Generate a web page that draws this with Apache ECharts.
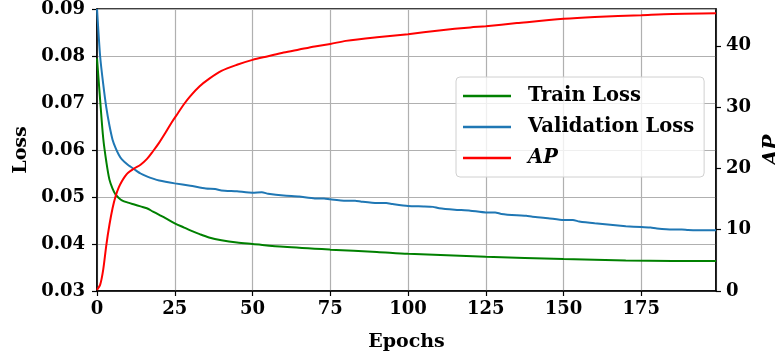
<!DOCTYPE html>
<html>
<head>
<meta charset="utf-8">
<script src="https://cdn.jsdelivr.net/npm/echarts@6/dist/echarts.min.js"></script>
<style>
  html, body { margin: 0; padding: 0; background: #fff; }
  #chart { width: 775px; height: 358px; }
</style>
</head>
<body>
<div id="chart"></div>
<script>
// values
const trainEpochs = [0, 1, 2, 3, 4, 5, 6, 7, 8, 10, 12, 14, 16, 18, 20, 22, 25, 28, 30, 33, 36, 40, 45, 50, 60, 75, 90, 100, 125, 150, 170, 185, 199];
const trainLoss = [0.0795, 0.0707, 0.0625, 0.0575, 0.0537, 0.0518, 0.0505, 0.0498, 0.0493, 0.0488, 0.0484, 0.0480, 0.0476, 0.0469, 0.0462, 0.0455, 0.0444, 0.0435, 0.0429, 0.0421, 0.0414, 0.0408, 0.0403, 0.0400, 0.0394, 0.0388, 0.0383, 0.0379, 0.0373, 0.0368, 0.0365, 0.0364, 0.0364];

const valEpochs = [0, 1, 2, 3, 4, 5, 6, 7, 8, 10, 12, 14, 16, 18, 20, 25, 30, 35, 38, 40, 45, 50, 53, 55, 60, 65, 70, 73, 75, 80, 83, 85, 90, 93, 95, 100, 105, 108, 110, 115, 120, 125, 128, 130, 135, 138, 140, 145, 150, 153, 155, 160, 165, 170, 175, 178, 180, 185, 188, 190, 195, 199];
const valLoss = [0.0900, 0.0800, 0.0740, 0.0690, 0.0652, 0.0622, 0.0604, 0.0590, 0.0580, 0.0568, 0.0559, 0.0550, 0.0544, 0.0539, 0.0535, 0.0529, 0.0524, 0.0518, 0.0517, 0.0514, 0.0512, 0.0509, 0.0510, 0.0507, 0.0503, 0.0501, 0.0497, 0.0497, 0.0495, 0.0492, 0.0492, 0.0490, 0.0487, 0.0487, 0.0485, 0.0481, 0.0480, 0.0479, 0.0476, 0.0473, 0.0471, 0.0467, 0.0467, 0.0464, 0.0461, 0.0460, 0.0458, 0.0455, 0.0451, 0.0451, 0.0448, 0.0444, 0.0441, 0.0438, 0.0436, 0.0435, 0.0433, 0.0431, 0.0431, 0.0430, 0.0429, 0.0429];

const apEpochs = [0, 1, 2, 3, 4, 5, 6, 7, 8, 9, 10, 12, 14, 16, 18, 20, 22, 24, 26, 28, 30, 33, 36, 40, 45, 50, 55, 60, 65, 70, 75, 80, 90, 100, 110, 120, 125, 135, 150, 160, 175, 185, 199];
const apValues = [0.2, 1.0, 3.5, 7.5, 10.8, 13.5, 15.5, 16.9, 17.9, 18.7, 19.3, 20.0, 20.6, 21.5, 22.8, 24.2, 25.8, 27.5, 29.0, 30.5, 31.8, 33.4, 34.6, 35.9, 36.9, 37.7, 38.3, 38.9, 39.4, 39.9, 40.3, 40.8, 41.4, 41.9, 42.5, 43.0, 43.2, 43.7, 44.4, 44.7, 45.0, 45.2, 45.3];

const pairs = (xs, ys) => xs.map((x, i) => [x, ys[i]]);

const font = 'DejaVu Serif';
const lbl = { fontFamily: font, fontWeight: 'bold', fontSize: 18, color: '#000' };

const chart = echarts.init(document.getElementById('chart'), null, { renderer: 'canvas' });

chart.setOption({
  animation: false,
  grid: {
    left: 97, right: 59, top: 9, bottom: 67,
    outerBoundsMode: 'none', containLabel: false,
    show: true, borderColor: '#000', borderWidth: 1.5, backgroundColor: 'transparent'
  },
  legend: {
    orient: 'vertical',
    left: 456, top: 77,
    padding: [8, 10, 8, 7],
    icon: 'rect',
    itemWidth: 48, itemHeight: 2.5, itemGap: 9,
    backgroundColor: 'rgba(255,255,255,0.8)',
    borderColor: '#d0d0d0', borderWidth: 1, borderRadius: 4,
    formatter: name => name === 'AP' ? '{it|AP}' : name,
    textStyle: {
      fontFamily: font, fontWeight: 'bold', fontSize: 19.5, color: '#000',
      padding: [0, 0, 0, 12], lineHeight: 22,
      rich: { it: { fontFamily: font, fontWeight: 'bold', fontStyle: 'italic', fontSize: 19.5, color: '#000', lineHeight: 22 } }
    },
    data: ['Train Loss', 'Validation Loss', 'AP']
  },
  xAxis: {
    type: 'value', min: 0, max: 199, interval: 25,
    name: 'Epochs', nameLocation: 'middle', nameGap: 42,
    nameTextStyle: Object.assign({}, lbl, { fontSize: 19 }),
    axisLine: { show: true, lineStyle: { color: '#000', width: 1.5 } },
    axisTick: { show: true, inside: false, length: 5, lineStyle: { color: '#000', width: 1.2 } },
    axisLabel: Object.assign({}, lbl, { margin: 9, showMaxLabel: false }),
    splitLine: { show: true, lineStyle: { color: '#b0b0b0', width: 1.2 } }
  },
  yAxis: [
    {
      type: 'value', min: 0.03, max: 0.09, interval: 0.01, position: 'left',
      name: 'Loss', nameLocation: 'middle', nameGap: 66, nameRotate: 90,
      nameTextStyle: Object.assign({}, lbl, { fontSize: 19 }),
      axisLine: { show: true, lineStyle: { color: '#000', width: 1.5 } },
      axisTick: { show: true, inside: false, length: 5, lineStyle: { color: '#000', width: 1.2 } },
      axisLabel: Object.assign({}, lbl, { margin: 12, formatter: v => v.toFixed(2) }),
      splitLine: { show: true, lineStyle: { color: '#b0b0b0', width: 1.2 } }
    },
    {
      type: 'value', min: 0, max: 46, interval: 10, position: 'right',
      name: 'AP', nameLocation: 'middle', nameGap: 35, nameRotate: 90,
      nameTextStyle: Object.assign({}, lbl, { fontSize: 20, fontStyle: 'italic' }),
      axisLine: { show: true, lineStyle: { color: '#000', width: 1.5 } },
      axisTick: { show: true, inside: false, length: 5, lineStyle: { color: '#000', width: 1.2 } },
      axisLabel: Object.assign({}, lbl, { margin: 10, showMaxLabel: false }),
      splitLine: { show: false }
    }
  ],
  series: [
    {
      name: 'Train Loss', type: 'line', yAxisIndex: 0, smooth: 0.3,
      symbol: 'none', data: pairs(trainEpochs, trainLoss),
      itemStyle: { color: '#008000' }, lineStyle: { color: '#008000', width: 2 }
    },
    {
      name: 'Validation Loss', type: 'line', yAxisIndex: 0, smooth: 0.2,
      symbol: 'none', data: pairs(valEpochs, valLoss),
      itemStyle: { color: '#1f77b4' }, lineStyle: { color: '#1f77b4', width: 2 }
    },
    {
      name: 'AP', type: 'line', yAxisIndex: 1, smooth: 0.3,
      symbol: 'none', data: pairs(apEpochs, apValues),
      itemStyle: { color: '#ff0000' }, lineStyle: { color: '#ff0000', width: 2 }
    }
  ]
});
</script>
</body>
</html>
